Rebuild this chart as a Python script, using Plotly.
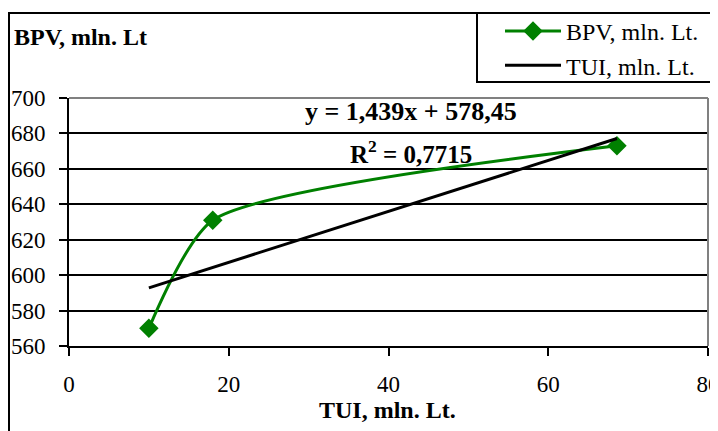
import plotly.graph_objects as go

# ---- data ----
tui_values = [10, 18, 68.6]          # TUI, mln. Lt. (x)
bpv_values = [570, 631, 673]         # BPV, mln. Lt (y)
trend_slope = 1.439
trend_intercept = 578.45
trend_r2 = 0.7715
x_ticks = [0, 20, 40, 60, 80]
y_ticks = [560, 580, 600, 620, 640, 660, 680, 700]

trend_x = [min(tui_values), max(tui_values)]
trend_y = [trend_slope * v + trend_intercept for v in trend_x]

FONT = "'Times New Roman', 'Liberation Serif', serif"
GREEN = "#008000"

# the page body has an 8px margin: figure pixel = page pixel - 8
OFF = 8
W, H = 718, 431
PL, PR, PT, PB = 69 - OFF, 708 - OFF, 98 - OFF, 346 - OFF   # plot area in figure px
L, R, T, B = PL, W - PR, PT, H - PB
pw, ph = PR - PL, PB - PT


def px(xp):  # page px -> paper x
    return (xp - OFF - PL) / pw


def py(yp):  # page px -> paper y
    return (PB - (yp - OFF)) / ph


fig = go.Figure()
fig.add_trace(go.Scatter(
    x=tui_values, y=bpv_values, name="BPV, mln. Lt.",
    mode="lines+markers",
    line=dict(color=GREEN, width=3, shape="spline", smoothing=0.62),
    marker=dict(symbol="diamond", size=15, color=GREEN),
))
fig.add_trace(go.Scatter(
    x=trend_x, y=trend_y, name="TUI, mln. Lt.",
    mode="lines", line=dict(color="black", width=3),
))

fig.update_layout(
    width=W, height=H,
    margin=dict(l=L, r=R, t=T, b=B, autoexpand=False),
    paper_bgcolor="white", plot_bgcolor="white",
    font=dict(family=FONT, size=23, color="black"),
    showlegend=True,
    legend=dict(
        x=px(500), y=py(9), xanchor="left", yanchor="top",
        borderwidth=0, bgcolor="rgba(0,0,0,0)",
        font=dict(family=FONT, size=24, color="black"),
        itemwidth=56, tracegroupgap=0,
    ),
    xaxis=dict(
        range=[0, 80], tickvals=x_ticks, ticktext=[str(v) for v in x_ticks],
        showgrid=False, zeroline=False,
        showline=True, linecolor="black", linewidth=2,
        ticks="outside", ticklen=8, tickwidth=2, tickcolor="black",
        ticklabelstandoff=8,
        tickfont=dict(family=FONT, size=23, color="black"),
    ),
    yaxis=dict(
        range=[560, 700], tickvals=y_ticks, ticktext=[str(v) for v in y_ticks],
        showgrid=True, gridcolor="black", gridwidth=2, zeroline=False,
        showline=True, linecolor="black", linewidth=2,
        ticks="outside", ticklen=8, tickwidth=2, tickcolor="black",
        ticklabelstandoff=9,
        tickfont=dict(family=FONT, size=23, color="black"),
    ),
)

shapes = [
    # outer chart frame
    dict(type="rect", xref="paper", yref="paper",
         x0=px(9), x1=px(740), y0=py(460), y1=py(13),
         line=dict(color="black", width=2), fillcolor="rgba(0,0,0,0)", layer="below"),
    # legend box
    dict(type="rect", xref="paper", yref="paper",
         x0=px(477), x1=px(717), y0=py(82), y1=py(13),
         line=dict(color="black", width=2), fillcolor="white", layer="below"),
    # grey plot-area border (top and right)
    dict(type="line", xref="paper", yref="paper", x0=0, x1=1, y0=1, y1=1,
         line=dict(color="#808080", width=2), layer="above"),
    dict(type="line", xref="paper", yref="paper", x0=1, x1=1, y0=0, y1=1,
         line=dict(color="#808080", width=2), layer="above"),
]
fig.update_layout(shapes=shapes)

r2_text = str(trend_r2).replace(".", ",")
eq_text = "y = {}x + {}".format(str(trend_slope).replace(".", ","),
                                 str(trend_intercept).replace(".", ","))
annotations = [
    dict(text="<b>BPV, mln. Lt</b>", xref="paper", yref="paper",
         x=px(12), y=py(37), xanchor="left", yanchor="middle", showarrow=False,
         font=dict(family=FONT, size=24, color="black")),
    dict(text="<b>TUI, mln. Lt.</b>", xref="paper", yref="paper",
         x=px(387), y=py(410), xanchor="center", yanchor="middle", showarrow=False,
         font=dict(family=FONT, size=24, color="black")),
    dict(text="<b>" + eq_text + "</b>", xref="paper", yref="paper",
         x=px(411), y=py(112), xanchor="center", yanchor="middle", showarrow=False,
         font=dict(family=FONT, size=26, color="black")),
    dict(text="<b>R<sup>2</sup> = " + r2_text + "</b>", xref="paper", yref="paper",
         x=px(411), y=py(152), xanchor="center", yanchor="middle", showarrow=False,
         font=dict(family=FONT, size=25, color="black")),
]
fig.update_layout(annotations=annotations)

fig.write_html("out.html")
